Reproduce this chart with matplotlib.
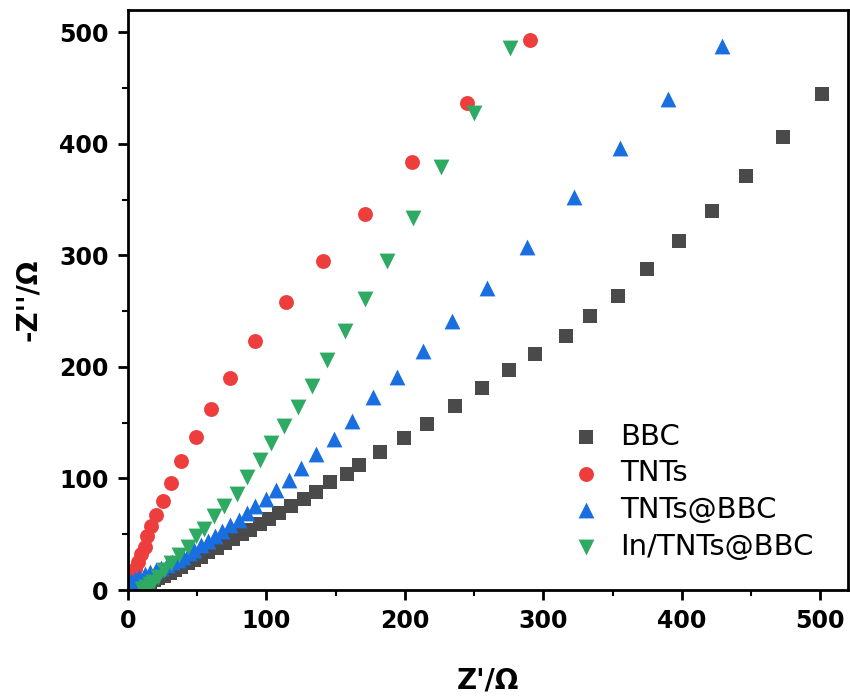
import matplotlib.pyplot as plt
from matplotlib.ticker import MultipleLocator

plt.rcParams['font.family'] = ['DejaVu Sans']

# Nyquist data (Z' / Ohm, -Z'' / Ohm)
bbc_x = [501, 473, 446, 422, 398, 375, 354, 334, 316, 294, 275, 256, 236, 216, 199,
         182, 167, 158, 146, 136, 127, 118, 109, 102, 95, 88, 82, 76, 70, 64, 58, 53,
         48, 43, 38, 34, 30, 26, 22, 19, 16, 13, 11, 9, 7]
bbc_y = [445, 406, 371, 340, 313, 288, 264, 246, 228, 212, 197, 181, 165, 149, 136,
         124, 112, 104, 97, 88, 82, 75, 69, 64, 59, 54, 50, 46, 42, 38, 34, 30,
         27, 24, 21, 18, 15, 13, 11, 9, 7, 6, 5, 4, 3]

tnt_x = [290, 245, 205, 171, 141, 114, 92, 74, 60, 49, 38, 31, 25, 20, 16.6, 14, 12,
         9.5, 7, 5, 2.5, 1]
tnt_y = [493, 437, 384, 337, 295, 258, 223, 190, 162, 137, 116, 96, 80, 67, 57, 48, 39,
         32, 25, 19, 14, 12]

tntbbc_x = [429, 390, 355, 322, 288, 259, 234, 213, 194, 177, 162, 149, 136, 125, 116,
            107, 100, 92, 86, 80, 74, 68, 63, 58, 53, 48, 44, 40, 36, 32, 28, 24, 20,
            16, 12, 8, 5, 2]
tntbbc_y = [488, 440, 396, 352, 308, 271, 241, 214, 191, 173, 152, 135, 122, 109, 99,
            90, 82, 75, 69, 63, 58, 53, 48, 44, 40, 36, 33, 30, 27, 25, 22, 20, 18,
            16, 14, 12, 10, 8]

in_x = [276, 250, 226, 206, 187, 171, 157, 144, 133, 123, 113, 103, 95, 86, 79, 69,
        62, 55, 49, 43, 37, 31, 26, 21.5, 18, 16, 13, 10]
in_y = [486, 428, 379, 334, 295, 261, 232, 206, 183, 164, 147, 132, 117, 101, 86, 75,
        66, 55, 48, 39, 31, 24, 18, 12, 7.5, 5, 3, 1]

fig = plt.figure(figsize=(8.5, 6.97), dpi=100)
ax = fig.add_axes([0.1506, 0.1535, 0.847, 0.832])

ax.scatter(bbc_x, bbc_y, marker='s', s=95, color='#4a4a4a', label='BBC', linewidths=0)
ax.scatter(tnt_x, tnt_y, marker='o', s=115, color='#ee3d3d', label='TNTs', linewidths=0)
ax.scatter(tntbbc_x, tntbbc_y, marker='^', s=130, color='#1a6fe0', label='TNTs@BBC',
           linewidths=0)
ax.scatter(in_x, in_y, marker='v', s=130, color='#2eaa62', label='In/TNTs@BBC',
           linewidths=0)

ax.set_xlim(0, 520)
ax.set_ylim(0, 520)
ax.xaxis.set_major_locator(MultipleLocator(100))
ax.xaxis.set_minor_locator(MultipleLocator(50))
ax.yaxis.set_major_locator(MultipleLocator(100))
ax.yaxis.set_minor_locator(MultipleLocator(50))
ax.tick_params(which='major', direction='out', length=7, width=2, labelsize=17, pad=7)
ax.tick_params(which='minor', direction='out', length=4, width=1.5)
for lab in ax.get_xticklabels() + ax.get_yticklabels():
    lab.set_fontweight('bold')
for sp in ax.spines.values():
    sp.set_linewidth(2)

ax.set_xlabel("Z'/\u03a9", fontsize=20, fontweight='bold', labelpad=24)
ax.set_ylabel("-Z''/\u03a9", fontsize=20, fontweight='bold', labelpad=12)

ax.legend(loc='lower left', bbox_to_anchor=(0.578, 0.005), frameon=False, fontsize=21,
          handlelength=1.1, handletextpad=0.6, labelspacing=0.3, markerscale=1.0)

fig.savefig('out.png', dpi=100)
